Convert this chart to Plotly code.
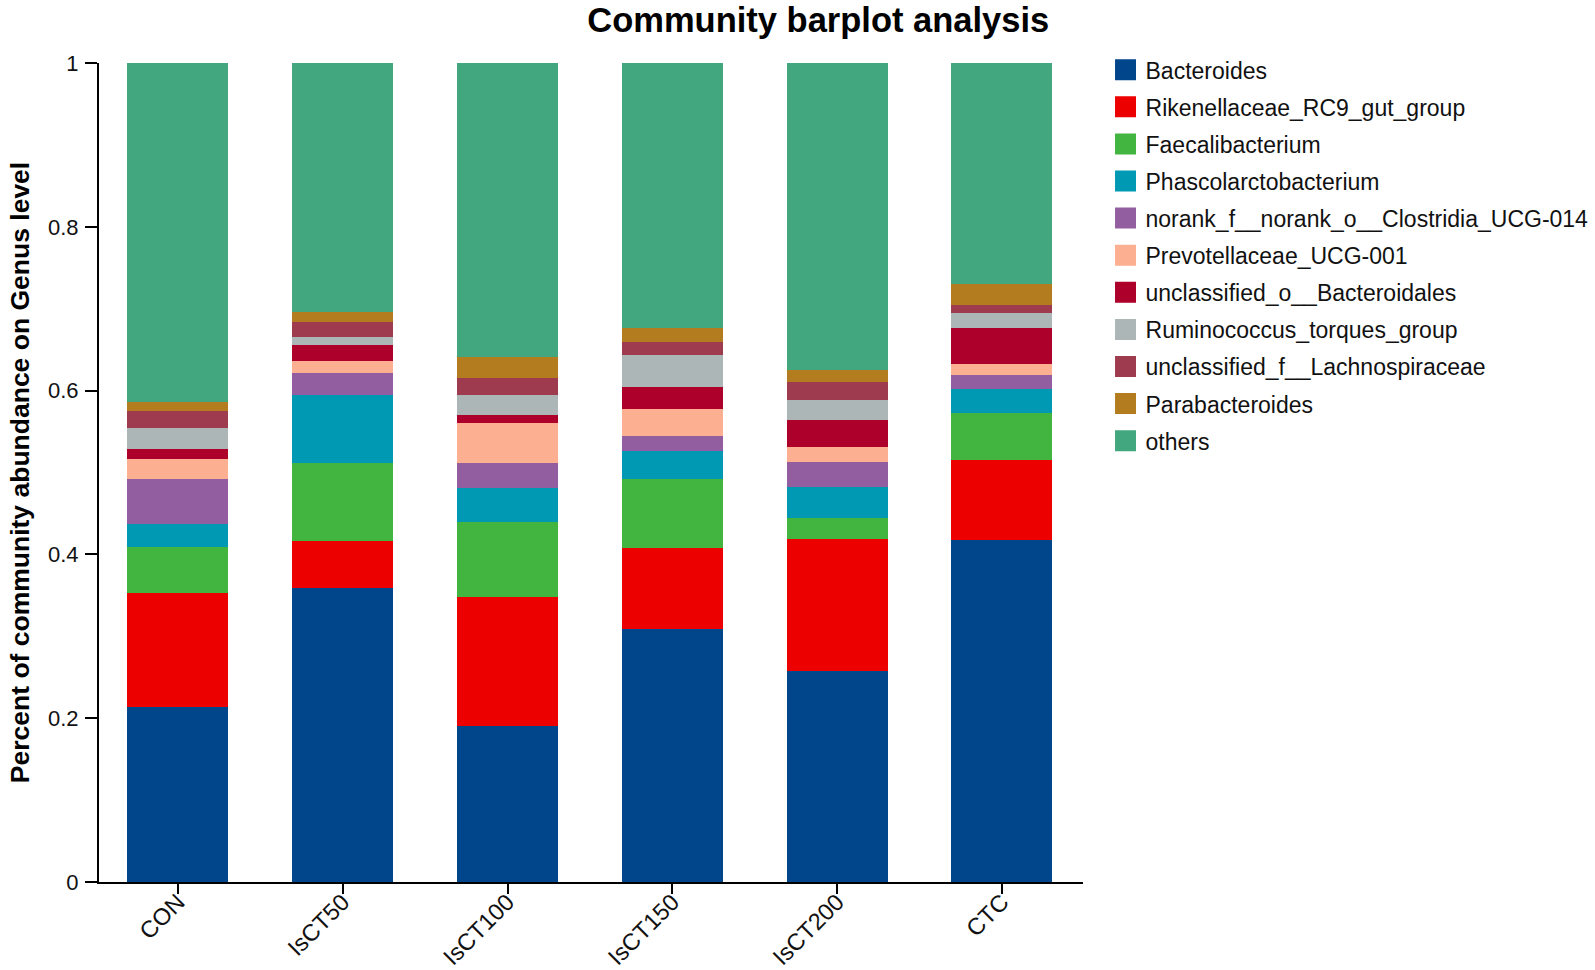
import plotly.graph_objects as go

samples = ["CON", "IsCT50", "IsCT100", "IsCT150", "IsCT200", "CTC"]

taxa = [
    "Bacteroides",
    "Rikenellaceae_RC9_gut_group",
    "Faecalibacterium",
    "Phascolarctobacterium",
    "norank_f__norank_o__Clostridia_UCG-014",
    "Prevotellaceae_UCG-001",
    "unclassified_o__Bacteroidales",
    "Ruminococcus_torques_group",
    "unclassified_f__Lachnospiraceae",
    "Parabacteroides",
    "others",
]

bacteroides   = [0.214, 0.359, 0.191, 0.309, 0.258, 0.417]
rikenellaceae = [0.139, 0.057, 0.157, 0.099, 0.161, 0.098]
faecalibact   = [0.056, 0.096, 0.091, 0.084, 0.026, 0.058]
phascolarcto  = [0.028, 0.083, 0.042, 0.034, 0.037, 0.029]
norank_clost  = [0.055, 0.027, 0.030, 0.018, 0.031, 0.017]
prevotellaceae= [0.025, 0.014, 0.049, 0.033, 0.018, 0.013]
uncl_bacteroid= [0.012, 0.020, 0.010, 0.028, 0.033, 0.044]
ruminococcus  = [0.025, 0.009, 0.025, 0.038, 0.025, 0.019]
uncl_lachno   = [0.021, 0.019, 0.021, 0.016, 0.022, 0.009]
parabacteroid = [0.011, 0.012, 0.025, 0.017, 0.014, 0.026]
others        = [0.414, 0.304, 0.359, 0.324, 0.375, 0.270]

series = [bacteroides, rikenellaceae, faecalibact, phascolarcto, norank_clost,
          prevotellaceae, uncl_bacteroid, ruminococcus, uncl_lachno,
          parabacteroid, others]

colors = ["#01468B", "#ED0000", "#42B540", "#0099B4", "#925E9F", "#FDAF91",
          "#AD002A", "#ADB6B6", "#9E3B4E", "#B27C1F", "#42A67E"]

y_ticks = [0, 0.2, 0.4, 0.6, 0.8, 1]
y_tick_text = ["0", "0.2", "0.4", "0.6", "0.8", "1"]

FONT = "Liberation Sans, Arial, sans-serif"

fig = go.Figure()
for name, vals, col in zip(taxa, series, colors):
    fig.add_trace(go.Bar(
        x=samples, y=vals, name=name, marker=dict(color=col, line=dict(width=0)),
        width=0.613, showlegend=False, legendgroup=name,
    ))
for name, col in zip(taxa, colors):
    fig.add_trace(go.Scatter(
        x=[None], y=[None], mode="markers", name=name, legendgroup=name,
        marker=dict(symbol="square", size=16, color=col, line=dict(color=col, width=5)),
        showlegend=True, hoverinfo="skip",
    ))

fig.update_layout(
    template="none",
    width=1595, height=970, autosize=False,
    barmode="stack",
    paper_bgcolor="white", plot_bgcolor="white",
    margin=dict(l=99, r=512, t=63, b=88, autoexpand=False),
    font=dict(family=FONT, size=22, color="#111"),
    title=dict(text="<b>Community barplot analysis</b>", x=0.513, xref="container",
               xanchor="center", y=1 - 20 / 970, yref="container", yanchor="middle",
               font=dict(size=34.5, color="#000", family=FONT)),
    xaxis=dict(type="category", categoryorder="array", categoryarray=samples,
               range=[-0.479, 5.492], showline=True, linecolor="black", linewidth=2,
               ticks="outside", ticklen=10, tickwidth=2, tickcolor="black",
               tickangle=-45, tickfont=dict(size=23.5, color="#111"),
               ticklabelstandoff=-15,
               showgrid=False, zeroline=False, automargin=False),
    yaxis=dict(range=[0, 1], tickvals=y_ticks, ticktext=y_tick_text,
               showline=True, linecolor="black", linewidth=2,
               ticks="outside", ticklen=12, tickwidth=2, tickcolor="black",
               ticklabelstandoff=2,
               tickfont=dict(size=22, color="#111"), showgrid=False, zeroline=False,
               automargin=False,
               title=dict(text="<b>Percent of community abundance on Genus level</b>",
                          font=dict(size=26.5, color="#000"), standoff=11)),
    legend=dict(x=1.0229, y=1.018, xanchor="left", yanchor="top",
                traceorder="grouped", tracegroupgap=4.2,
                font=dict(size=23, color="#111"), bgcolor="rgba(0,0,0,0)"),
)

fig.write_html("out.html", post_script="document.body.style.margin='0';",
               config={"displayModeBar": False})
